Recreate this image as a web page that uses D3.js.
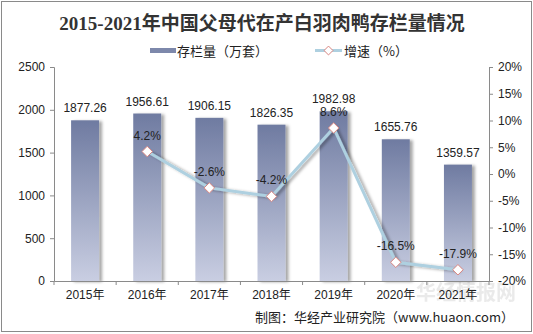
<!DOCTYPE html>
<html>
<head>
<meta charset="utf-8">
<script src="https://cdn.jsdelivr.net/npm/d3@7"></script>
<style>
  body { margin: 0; background: #fff; }
  text { font-family: "Liberation Sans", Arial, "Noto Sans CJK SC", sans-serif; }
</style>
</head>
<body>
<script>
// 数据
var years = ["2015年", "2016年", "2017年", "2018年", "2019年", "2020年", "2021年"];
var stock = [1877.26, 1956.61, 1906.15, 1826.35, 1982.98, 1655.76, 1359.57];
var growth = [null, 4.2, -2.6, -4.2, 8.6, -16.5, -17.9];
var leftTicks = [0, 500, 1000, 1500, 2000, 2500];
var rightTicks = [-20, -15, -10, -5, 0, 5, 10, 15, 20];

var width = 533, height = 334;
var margin = {left: 54, right: 44, top: 67, bottom: 53};

var svg = d3.select("body").append("svg")
    .attr("width", width)
    .attr("height", height);

var defs = svg.append("defs");
var grad = defs.append("linearGradient")
    .attr("id", "barGrad")
    .attr("x1", 0).attr("y1", 0).attr("x2", 0).attr("y2", 1);
grad.append("stop").attr("offset", "0%").attr("stop-color", "#6f7ba1");
grad.append("stop").attr("offset", "100%").attr("stop-color", "#c9cee2");

var shadow = defs.append("filter").attr("id", "shadow")
    .attr("x", "-30%").attr("y", "-10%").attr("width", "160%").attr("height", "130%");
shadow.append("feDropShadow")
    .attr("dx", 3).attr("dy", 1).attr("stdDeviation", 1.5)
    .attr("flood-color", "#000").attr("flood-opacity", 0.35);

// Рамка
svg.append("rect")
    .attr("x", 1.5).attr("y", 1.5)
    .attr("width", width - 3).attr("height", height - 4)
    .attr("fill", "none").attr("stroke", "#8a8a8a");

// 标题
svg.append("text")
    .attr("x", 262).attr("y", 30)
    .attr("text-anchor", "middle")
    .style("font-family", "'Liberation Serif', 'Noto Sans CJK SC', serif")
    .style("font-weight", "bold")
    .style("font-size", "19px")
    .attr("fill", "#333")
    .text("2015-2021年中国父母代在产白羽肉鸭存栏量情况");

// Шкалы
var x = d3.scaleBand()
    .domain(years)
    .range([margin.left, width - margin.right])
    .paddingInner(0.55)
    .paddingOuter(0.275);

var yL = d3.scaleLinear().domain([0, 2500]).range([height - margin.bottom, margin.top]);
var yR = d3.scaleLinear().domain([-20, 20]).range([height - margin.bottom, margin.top]);

// Водяной знак
svg.append("text")
    .attr("x", 466).attr("y", 300)
    .attr("text-anchor", "middle")
    .style("font-family", "'Noto Sans CJK SC', sans-serif")
    .style("font-size", "20px")
    .style("font-weight", "bold")
    .attr("fill", "#e2e2e2")
    .attr("opacity", 0.7)
    .text("华经情报网");

// Столбцы
svg.append("g").selectAll("rect")
    .data(stock)
    .join("rect")
    .attr("x", (d, i) => x(years[i]))
    .attr("y", d => yL(d))
    .attr("width", x.bandwidth())
    .attr("height", d => yL(0) - yL(d))
    .attr("fill", "url(#barGrad)")
    .attr("filter", "url(#shadow)");

svg.append("g").selectAll("text")
    .data(stock)
    .join("text")
    .attr("x", (d, i) => x(years[i]) + x.bandwidth() / 2)
    .attr("y", d => yL(d) - 8)
    .attr("text-anchor", "middle")
    .style("font-size", "12px")
    .attr("fill", "#222")
    .text(d => d.toFixed(2));

// Оси
var axisColor = "#8a8a8a";
var gL = svg.append("g")
    .attr("transform", "translate(" + margin.left + ",0)")
    .call(d3.axisLeft(yL).tickValues(leftTicks).tickSize(4).tickPadding(5).tickFormat(d3.format("d")));
var gR = svg.append("g")
    .attr("transform", "translate(" + (width - margin.right) + ",0)")
    .call(d3.axisRight(yR).tickValues(rightTicks).tickSize(4).tickPadding(5).tickFormat(d => d + "%"));
var gB = svg.append("g")
    .attr("transform", "translate(0," + yL(0) + ")")
    .call(d3.axisBottom(x).tickSize(0).tickPadding(9));

[gL, gR, gB].forEach(function(g) {
    g.select(".domain").attr("stroke", axisColor);
    g.selectAll(".tick line").attr("stroke", axisColor);
    g.selectAll(".tick text")
        .style("font-family", "'Liberation Sans', Arial, 'Noto Sans CJK SC', sans-serif")
        .style("font-size", "12px")
        .attr("fill", "#222");
});

// Деления между категориями
var bounds = d3.range(years.length + 1).map(i => margin.left + i * x.step());
gB.selectAll(".sep")
    .data(bounds)
    .join("line")
    .attr("class", "sep")
    .attr("x1", d => d).attr("x2", d => d)
    .attr("y1", 0).attr("y2", 4)
    .attr("stroke", axisColor);

// Линия роста
var pts = growth.map((g, i) => ({g: g, yr: years[i]})).filter(d => d.g !== null);
var line = d3.line()
    .x(d => x(d.yr) + x.bandwidth() / 2)
    .y(d => yR(d.g));

svg.append("path")
    .datum(pts)
    .attr("d", line)
    .attr("fill", "none")
    .attr("stroke", "#aed0e0")
    .attr("stroke-width", 3)
    .attr("filter", "url(#shadow)");

svg.append("g").selectAll("path")
    .data(pts)
    .join("path")
    .attr("d", d3.symbol().type(d3.symbolDiamond2).size(70))
    .attr("transform", d => "translate(" + (x(d.yr) + x.bandwidth() / 2) + "," + yR(d.g) + ")")
    .attr("fill", "#fff")
    .attr("stroke", "#d9847f")
    .attr("stroke-width", 1);

svg.append("g").selectAll("text")
    .data(pts)
    .join("text")
    .attr("x", d => x(d.yr) + x.bandwidth() / 2)
    .attr("y", d => yR(d.g) - 12)
    .attr("text-anchor", "middle")
    .style("font-size", "12px")
    .attr("fill", "#222")
    .text(d => d.g.toFixed(1) + "%");

// Легенда
var legend = svg.append("g");
legend.append("rect")
    .attr("x", 150).attr("y", 48).attr("width", 26).attr("height", 5)
    .attr("fill", "#7d88ab");
legend.append("text")
    .attr("x", 177).attr("y", 56)
    .style("font-size", "13px")
    .style("font-family", "'Noto Sans CJK SC', sans-serif")
    .attr("fill", "#222")
    .text("存栏量（万套）");
legend.append("line")
    .attr("x1", 315).attr("x2", 342).attr("y1", 50.5).attr("y2", 50.5)
    .attr("stroke", "#aed0e0").attr("stroke-width", 3);
legend.append("path")
    .attr("d", d3.symbol().type(d3.symbolDiamond2).size(50))
    .attr("transform", "translate(328.5,50.5)")
    .attr("fill", "#fff").attr("stroke", "#d9847f");
legend.append("text")
    .attr("x", 344).attr("y", 56)
    .style("font-size", "13px")
    .style("font-family", "'Noto Sans CJK SC', sans-serif")
    .attr("fill", "#222")
    .text("增速（%）");

// Источник
svg.append("text")
    .attr("x", 514).attr("y", 322)
    .attr("text-anchor", "end")
    .style("font-family", "'Noto Sans CJK SC', sans-serif")
    .style("font-size", "13px")
    .attr("fill", "#222")
    .text("制图：华经产业研究院（www.huaon.com）");
</script>
</body>
</html>
